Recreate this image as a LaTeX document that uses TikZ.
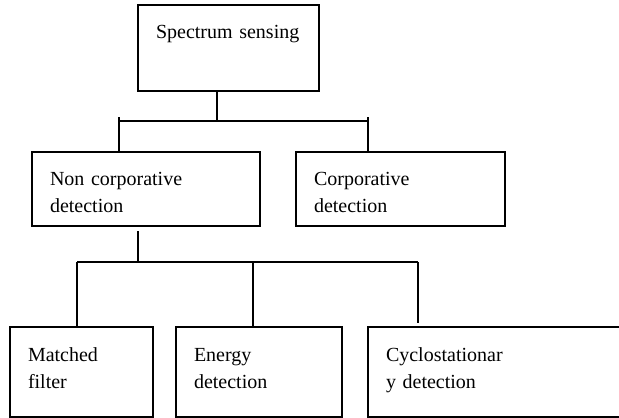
\documentclass[tikz,border=0pt]{standalone}
\usepackage{fontspec}
\setmainfont{Liberation Serif}

\begin{document}
\begin{tikzpicture}[
    x=0.5pt, y=-0.5pt,
    box/.style={draw, line width=1.2pt, rectangle, anchor=north west, outer sep=0pt,
      align=left, inner xsep=9pt, inner ysep=0pt, text height=17pt,
      font=\fontsize{10}{13.7}\selectfont},
    link/.style={line width=1pt}
  ]
    \useasboundingbox (0,0) rectangle (619,417);
    \clip (0,0) rectangle (619,417);

    % boxes
    \node[box, text width=72.5pt, text depth=26pt] (sens) at (138,5) {Spectrum sensing};
    \node[box, text width=96pt, text height=16.5pt, text depth=20.5pt] (nonc) at (32,152) {Non corporative\\detection};
    \node[box, text width=86.5pt, text height=16.5pt, text depth=20.5pt] (corp) at (296,152) {Corporative\\detection};
    \node[box, text width=53.5pt, text depth=28pt] (match) at (10,327) {Matched\\filter};
    \node[box, text width=65pt, text depth=28pt] (energy) at (176,327) {Energy\\detection};
    \node[box, text width=132pt, text depth=28pt] (cyclo) at (368,327) {Cyclostationar\\y detection};

    % first split
    \coordinate (top) at (217,121);
    \coordinate (topL) at (119,117);
    \coordinate (topR) at (368,117);
    \draw[link] (sens.south -| top) -- (top);
    \draw[link] (topL |- top) -- (topR |- top);
    \draw[link] (topL) -- (topL |- nonc.north);
    \draw[link] (topR) -- (topR |- corp.north);

    % second split
    \coordinate (midTop) at (138,231);
    \coordinate (mid) at (138,262);
    \coordinate (midL) at (77,262);
    \coordinate (midC) at (253,262);
    \coordinate (midR) at (418,262);
    \coordinate (midRend) at (418,323);
    \draw[link] (midTop) -- (mid);
    \draw[link] (midL) -- (midR);
    \draw[link] (midL) -- (midL |- match.north);
    \draw[link] (midC) -- (midC |- energy.north);
    \draw[link] (midR) -- (midRend);
\end{tikzpicture}
\end{document}
